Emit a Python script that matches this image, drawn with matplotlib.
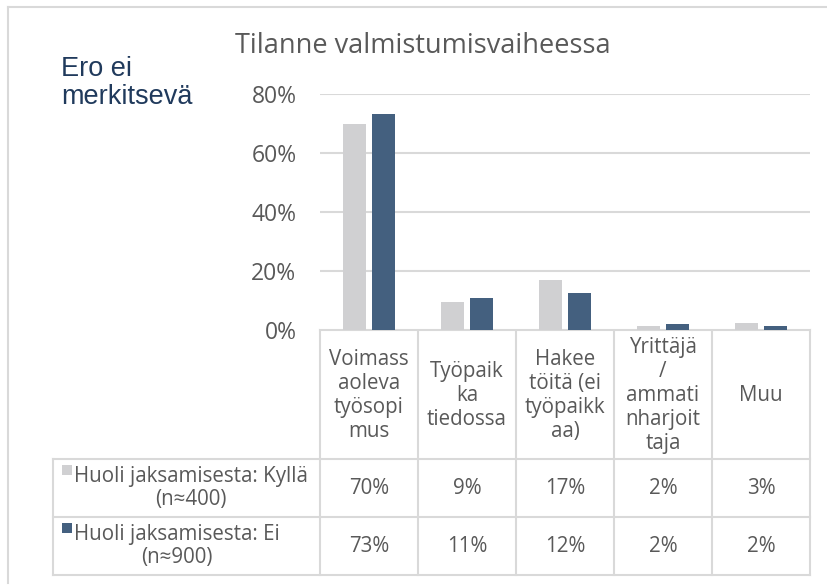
import matplotlib.pyplot as plt
import numpy as np

# data
kategoriat = ['Voimass\naoleva\ntyösopi\nmus', 'Työpaik\nka\ntiedossa', 'Hakee\ntöitä (ei\ntyöpaikk\naa)',
              'Yrittäjä\n/\nammati\nnharjoit\ntaja', 'Muu']
sarja_nimet = ['Huoli jaksamisesta: Kyllä\n(n≈400)', 'Huoli jaksamisesta: Ei\n(n≈900)']
kylla = [69.8, 9.4, 17.0, 1.5, 2.5]
ei = [73.3, 10.8, 12.4, 1.9, 1.5]
kylla_txt = ['70%', '9%', '17%', '2%', '3%']
ei_txt = ['73%', '11%', '12%', '2%', '2%']
ytick_vals = [0, 20, 40, 60, 80]

harmaa = '#D0D0D2'
sininen = '#44607F'
viiva = '#D9D9D9'
teksti = '#595959'
fontti = ['Open Sans', 'DejaVu Sans']

W, H = 827, 585
fig = plt.figure(figsize=(W / 100, H / 100), dpi=100)

# pohja-akseli pikseleinä kehystä ja taulukkoa varten
lay = fig.add_axes([0, 0, 1, 1])
lay.set_xlim(0, W)
lay.set_ylim(H, 0)
lay.axis('off')

# piirtoalue
x0, x1, y_top, y_bot = 320, 810, 94, 330
ax = fig.add_axes([x0 / W, 1 - y_bot / H, (x1 - x0) / W, (y_bot - y_top) / H])
n = len(kategoriat)
x = np.arange(n)
bw = 0.225
off = 0.148
ax.bar(x - off, kylla, bw, color=harmaa, zorder=3)
ax.bar(x + off, ei, bw, color=sininen, zorder=3)
ax.set_xlim(-0.5, n - 0.5)
ax.set_ylim(0, 80)
ax.set_yticks(ytick_vals)
ax.set_yticklabels([f'{v}%' for v in ytick_vals], fontsize=16.5, color=teksti, family=fontti)
ax.tick_params(axis='y', length=0, pad=17)
ax.set_xticks([])
ax.grid(axis='y', color=viiva, linewidth=1.5, zorder=0)
for s in ax.spines.values():
    s.set_visible(False)

# ulkokehys
lay.plot([8, W], [7, 7], color=viiva, lw=1.5)
lay.plot([8, 8], [7, 583], color=viiva, lw=1.5)

# otsikot
lay.text(423, 46, 'Tilanne valmistumisvaiheessa', fontsize=19.5, color=teksti,
         ha='center', va='center', family=fontti)
lay.text(61, 83, 'Ero ei\nmerkitsevä', fontsize=19.5, color='#203A5C', ha='left', va='center',
         family=['Liberation Sans'], linespacing=1.15)

# taulukko
colw = (x1 - x0) / n
edges = [x0 + i * colw for i in range(n + 1)]
r0, r1, r2, r3 = y_bot, 459, 517, 575
lw_t = 1.5
lay.plot([x0, x1], [r0, r0], color=viiva, lw=lw_t)
for yy in [r1, r2, r3]:
    lay.plot([53, x1], [yy, yy], color=viiva, lw=lw_t)
for xx in edges:
    lay.plot([xx, xx], [r0, r3], color=viiva, lw=lw_t)
lay.plot([53, 53], [r1, r3], color=viiva, lw=lw_t)

fs = 14.8
for i, kat in enumerate(kategoriat):
    cx = (edges[i] + edges[i + 1]) / 2
    lay.text(cx, (r0 + r1) / 2 + 1, kat, fontsize=fs, color=teksti, ha='center', va='center',
             family=fontti, linespacing=1.18)
    lay.text(cx, (r1 + r2) / 2, kylla_txt[i], fontsize=fs, color=teksti, ha='center', va='center',
             family=fontti)
    lay.text(cx, (r2 + r3) / 2, ei_txt[i], fontsize=fs, color=teksti, ha='center', va='center',
             family=fontti)

for (ya, yb), nimi, vari in zip([(r1, r2), (r2, r3)], sarja_nimet, [harmaa, sininen]):
    lay.add_patch(plt.Rectangle((62, ya + 6), 10, 10, color=vari, lw=0))
    lay.text(74, (ya + yb) / 2, nimi, fontsize=fs, color=teksti, ha='left', va='center',
             multialignment='center', family=fontti, linespacing=1.18)

plt.savefig('out.png', dpi=100)
